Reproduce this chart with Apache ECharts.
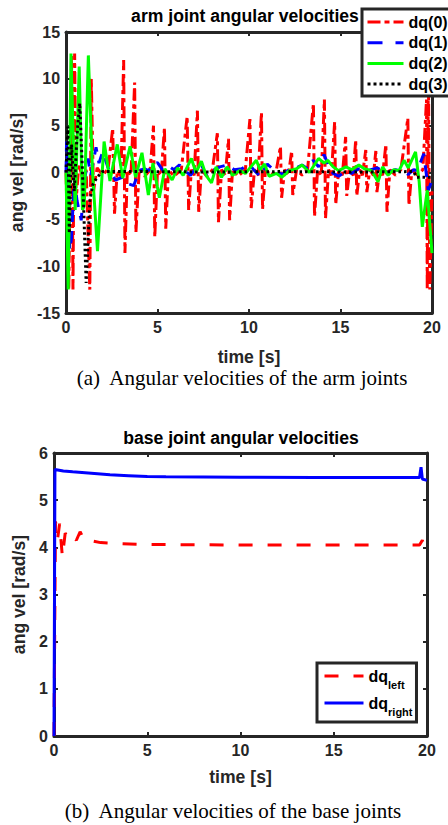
<!DOCTYPE html>
<html><head><meta charset="utf-8">
<script src="https://cdn.jsdelivr.net/npm/echarts@6/dist/echarts.min.js"></script>
<style>html,body{margin:0;padding:0;background:#fff}#c{width:448px;height:825px}</style>
</head><body><div id="c"></div>
<script>
// ---- data (time [s], angular velocity [rad/s]) ----
const xTicks = [0, 5, 10, 15, 20];
const armYTicks = [-15, -10, -5, 0, 5, 10, 15];
const baseYTicks = [0, 1, 2, 3, 4, 5, 6];
const armNames = ['dq(0)', 'dq(1)', 'dq(2)', 'dq(3)'];
const baseNames = ['dq_left', 'dq_right'];

const dq0 = [[0,0],[0.15,-12.5],[0.3,12.5],[0.38,-12.5],[0.47,12.7],[0.55,-3],[0.7,0.8],[0.9,-0.5],[1.1,0.3],[1.3,-12.5],[1.38,10],[1.5,-2],[1.7,0.5],[2.0,-0.3],[2.3,0.4],[2.55,4.7],[2.65,-4.4],[2.8,0.2],[3.0,-0.4],[3.15,12],[3.22,-8.6],[3.35,0.3],[3.55,-0.3],[3.75,9.6],[3.82,-6.4],[4.0,0.4],[4.3,-0.4],[4.6,0.3],[4.78,5],[4.85,-6.9],[5.0,0.2],[5.2,-0.3],[5.38,4.8],[5.45,-6],[5.6,0.3],[5.9,-0.4],[6.3,0.3],[6.62,6],[6.7,-4],[6.85,0.3],[7.0,-0.3],[7.18,6.6],[7.25,-4.2],[7.4,0.3],[7.7,-0.4],[8.0,0.3],[8.27,4.2],[8.33,-5.3],[8.5,0.3],[8.7,-0.3],[8.88,3.6],[8.94,-5.1],[9.1,0.3],[9.4,-0.4],[9.8,0.3],[10.05,5.7],[10.12,-3.8],[10.3,0.3],[10.5,-0.3],[10.68,6.4],[10.74,-3.9],[10.9,0.3],[11.2,-0.3],[11.5,0.3],[11.72,2.8],[11.78,-2.7],[11.95,0.3],[12.15,-0.3],[12.33,2.3],[12.39,-2.4],[12.6,0.3],[12.9,-0.3],[13.2,0.3],[13.52,7.4],[13.58,-4.7],[13.75,0.3],[13.95,-0.3],[14.12,7.8],[14.18,-4.9],[14.35,0.3],[14.5,-0.3],[14.68,5.4],[14.74,-3.4],[14.9,0.3],[15.1,-0.3],[15.28,3.8],[15.34,-2.5],[15.5,0.3],[15.7,-0.3],[15.83,3.5],[15.89,-2.5],[16.05,0.3],[16.2,-0.3],[16.38,2.4],[16.44,-2.1],[16.6,0.3],[16.8,-0.3],[16.93,2.3],[16.99,-2.1],[17.15,0.3],[17.3,-0.3],[17.48,3.0],[17.54,-4.2],[17.7,0.3],[18.0,-0.3],[18.3,0.3],[18.68,5.8],[18.74,-3.5],[18.9,0.3],[19.2,-0.3],[19.5,0.3],[19.7,7.8],[19.74,-12.5],[19.8,12],[19.88,-12.5],[20,-2]];

const dq1 = [[0,0],[0.03,3.3],[0.12,-1],[0.2,-8.3],[0.3,-7],[0.45,-0.5],[0.6,-3],[0.83,-5.1],[1.0,-1],[1.2,1.5],[1.35,-0.3],[1.64,2.7],[1.8,1],[2.0,2.2],[2.3,0.5],[2.7,-0.8],[3.1,-0.5],[3.4,-1.2],[3.7,-1.4],[4.0,0.2],[4.3,0.4],[4.5,0.2],[4.8,0.9],[5.0,1.05],[5.3,0.2],[5.6,0.7],[5.9,0.3],[6.2,0.8],[6.5,0.2],[6.8,-0.3],[7.1,0.5],[7.4,0.8],[7.7,-0.4],[8.0,0.2],[8.4,0.6],[8.8,0.8],[9.2,0.3],[9.6,0.4],[10.0,0.9],[10.3,0.2],[10.6,-0.4],[11.0,0.9],[11.4,0.2],[11.8,-0.2],[12.2,0.3],[12.6,0.5],[12.9,0.8],[13.2,0.4],[13.5,1.3],[13.8,0.6],[14.1,1.9],[14.4,0.5],[14.6,-0.1],[14.9,-0.4],[15.3,0.2],[15.6,-0.1],[16.0,0.4],[16.5,0.2],[17.0,0.5],[17.5,-0.1],[18.0,0.3],[18.4,0.1],[18.7,-0.2],[19.0,0.3],[19.2,0.2],[19.55,2.0],[19.8,-1.9],[20,-0.8]];

const dq2 = [[0,0],[0.12,-12.5],[0.27,12.7],[0.5,-4],[0.72,11.3],[0.9,-4],[1.0,-3.5],[1.22,12.5],[1.45,0],[1.72,-8.4],[2.08,3.3],[2.4,-0.9],[2.8,3.0],[3.1,-0.6],[3.5,2.8],[3.8,-0.5],[4.15,2.1],[4.5,-2.4],[4.75,1.0],[5.1,-2.7],[5.4,0.4],[5.8,-0.8],[6.1,0.5],[6.4,-0.3],[6.85,1.5],[7.1,0.0],[7.4,1.2],[7.65,-0.3],[7.95,-1.1],[8.2,0.6],[8.5,-0.5],[8.8,0.6],[9.1,-0.3],[9.5,0.2],[9.8,-0.1],[10.1,0.6],[10.4,1.3],[10.6,0.3],[10.85,0.9],[11.1,-0.4],[11.5,-0.1],[11.8,-0.5],[12.2,0.2],[12.6,0.4],[12.9,0.8],[13.3,0.0],[13.8,1.5],[14.1,1.0],[14.3,1.3],[14.6,0.6],[14.9,0.2],[15.3,0.6],[15.6,0.3],[16.0,0.8],[16.3,0.4],[16.7,0.2],[17.05,-1.0],[17.3,0.6],[17.6,-0.3],[17.9,0.3],[18.2,0.2],[18.47,1.3],[18.7,0.5],[19.1,2.2],[19.3,-1],[19.47,-5.8],[19.74,-1.9],[20,-8.6]];

const dq3 = [[0,0],[0.1,4.9],[0.18,-6.5],[0.3,3],[0.45,-2],[0.6,4],[0.75,7.4],[0.9,0],[1.1,-11.8],[1.3,-3],[1.46,-1.3],[1.7,-0.5],[2.0,0.1],[4.0,0.1],[8.0,0.05],[12.0,0.1],[16.0,0.05],[19.0,0.1],[19.15,-0.5],[20,-0.5]];

const dqLeft = [[0,0],[0.08,4.55],[0.2,4.2],[0.3,4.5],[0.45,3.8],[0.6,4.3],[0.8,4.18],[1.0,4.25],[1.2,4.15],[1.4,4.33],[1.6,4.17],[1.9,4.15],[2.5,4.1],[3.5,4.08],[5,4.06],[10,4.05],[15,4.05],[19.6,4.05],[19.75,4.15],[19.85,4.02],[20,4.03]];

const dqRight = [[0,0],[0.05,5.65],[0.5,5.62],[1,5.6],[2,5.57],[3,5.54],[4,5.52],[5,5.5],[6,5.495],[8,5.49],[10,5.485],[14,5.48],[19.6,5.48],[19.68,5.7],[19.75,5.45],[20,5.42]];

// ---- styles ----
const AX = '#262626';
const SANS = 'Liberation Sans, Arial, sans-serif';
const SERIF = 'Liberation Serif, Times New Roman, serif';
const HIDE = { opacity: 0, color: 'rgba(0,0,0,0)', borderWidth: 0 };

function xAx(grid, pos, labels, name, gap) {
  return {
    type: 'value', gridIndex: grid, position: pos, min: xTicks[0], max: xTicks[xTicks.length - 1], interval: 5,
    axisLine: { show: true, onZero: false, lineStyle: { color: AX, width: 3 } },
    axisTick: { show: true, inside: true, length: 4, lineStyle: { color: AX, width: 2 } },
    axisLabel: { show: labels, color: AX, fontFamily: SANS, fontWeight: 'bold', fontSize: 16, margin: 6 },
    splitLine: { show: false },
    name: name, nameLocation: 'middle', nameGap: gap,
    nameTextStyle: { color: AX, fontFamily: SANS, fontWeight: 'bold', fontSize: 17.6 }
  };
}
function yAx(grid, pos, labels, ticks, name, gap) {
  return {
    type: 'value', gridIndex: grid, position: pos, min: ticks[0], max: ticks[ticks.length - 1], interval: ticks[1] - ticks[0],
    axisLine: { show: true, onZero: false, lineStyle: { color: AX, width: 3 } },
    axisTick: { show: true, inside: true, length: 4, lineStyle: { color: AX, width: 2 } },
    axisLabel: { show: labels, color: AX, fontFamily: SANS, fontWeight: 'bold', fontSize: 16, margin: 6 },
    splitLine: { show: false },
    name: name, nameLocation: 'middle', nameGap: gap,
    nameTextStyle: { color: AX, fontFamily: SANS, fontWeight: 'bold', fontSize: 17.6 }
  };
}
function line(name, xi, yi, data, color, type, width) {
  return {
    type: 'line', name: name, xAxisIndex: xi, yAxisIndex: yi, data: data,
    showSymbol: false, symbol: 'none', animation: false, smooth: false,
    lineStyle: { color: color, width: width, type: type }, itemStyle: { color: color }
  };
}

const chart = echarts.init(document.getElementById('c'), null, { renderer: 'svg', width: 448, height: 825 });
chart.setOption({
  backgroundColor: '#fff',
  animation: false,
  grid: [
    { left: 60, top: 32, width: 372, height: 281 },
    { left: 54, top: 453, width: 373, height: 283 }
  ],
  xAxis: [
    xAx(0, 'bottom', true, 'time [s]', 35),
    xAx(0, 'top', false, '', 0),
    xAx(1, 'bottom', true, 'time [s]', 32),
    xAx(1, 'top', false, '', 0)
  ],
  yAxis: [
    yAx(0, 'left', true, armYTicks, 'ang vel [rad/s]', 33),
    yAx(0, 'right', false, armYTicks, '', 0),
    yAx(1, 'left', true, baseYTicks, 'ang vel [rad/s]', 13),
    yAx(1, 'right', false, baseYTicks, '', 0)
  ],
  legend: [
    {
      data: [
        { name: armNames[0], itemStyle: HIDE, lineStyle: { type: [13, 4, 5, 4], width: 3 } },
        { name: armNames[1], itemStyle: HIDE, lineStyle: { type: [15, 13], width: 3 } },
        { name: armNames[2], itemStyle: HIDE, lineStyle: { width: 3 } },
        { name: armNames[3], itemStyle: HIDE, lineStyle: { type: [3, 3], width: 3 } }
      ],
      orient: 'vertical', left: 362, top: 9, padding: [5, 30, 4, 4],
      itemWidth: 36, itemHeight: 14, itemGap: 4.7, selectedMode: false,
      itemStyle: HIDE,
      backgroundColor: '#fff', borderColor: AX, borderWidth: 3, borderRadius: 0,
      textStyle: { color: '#000', fontFamily: SANS, fontWeight: 'bold', fontSize: 16 }
    },
    {
      data: [
        { name: baseNames[0], itemStyle: HIDE, lineStyle: { type: [14, 15], width: 3 } },
        { name: baseNames[1], itemStyle: HIDE, lineStyle: { width: 3 } }
      ],
      orient: 'vertical', left: 317, top: 663, padding: [5, 4, 5, 6],
      itemWidth: 39, itemHeight: 14, itemGap: 5, selectedMode: false,
      itemStyle: HIDE,
      backgroundColor: '#fff', borderColor: AX, borderWidth: 3, borderRadius: 0,
      formatter: function (n) { return n === baseNames[0] ? '{a|dq}{b|left}' : '{a|dq}{b|right}'; },
      textStyle: {
        color: '#000', fontFamily: SANS, fontWeight: 'bold', fontSize: 16,
        rich: {
          a: { color: '#000', fontFamily: SANS, fontWeight: 'bold', fontSize: 16, lineHeight: 28, verticalAlign: 'middle' },
          b: { color: '#000', fontFamily: SANS, fontWeight: 'bold', fontSize: 11, lineHeight: 28, verticalAlign: 'bottom' }
        }
      }
    }
  ],
  series: [
    line(armNames[0], 0, 0, dq0, '#ff0000', [12, 4, 4, 4], 3),
    line(armNames[1], 0, 0, dq1, '#0000ff', [12, 9], 3),
    line(armNames[2], 0, 0, dq2, '#00ff00', 'solid', 3),
    line(armNames[3], 0, 0, dq3, '#000000', [2.5, 3], 3),
    line(baseNames[0], 2, 2, dqLeft, '#ff0000', [14, 15], 3),
    line(baseNames[1], 2, 2, dqRight, '#0000ff', 'solid', 3)
  ],
  graphic: [
    { type: 'text', style: { text: 'arm joint angular velocities', x: 245, y: 16, textAlign: 'center', textVerticalAlign: 'middle', fill: '#000', font: 'bold 17.6px ' + SANS } },
    { type: 'text', style: { text: 'base joint angular velocities', x: 241, y: 438, textAlign: 'center', textVerticalAlign: 'middle', fill: '#000', font: 'bold 17.6px ' + SANS } },
    { type: 'text', style: { text: '(a)\u00a0 Angular velocities of the arm joints', x: 242, y: 378, textAlign: 'center', textVerticalAlign: 'middle', fill: '#000', font: '21px ' + SERIF } },
    { type: 'text', style: { text: '(b)\u00a0 Angular velocities of the base joints', x: 233, y: 811, textAlign: 'center', textVerticalAlign: 'middle', fill: '#000', font: '21px ' + SERIF } }
  ]
});
</script>
</body></html>
